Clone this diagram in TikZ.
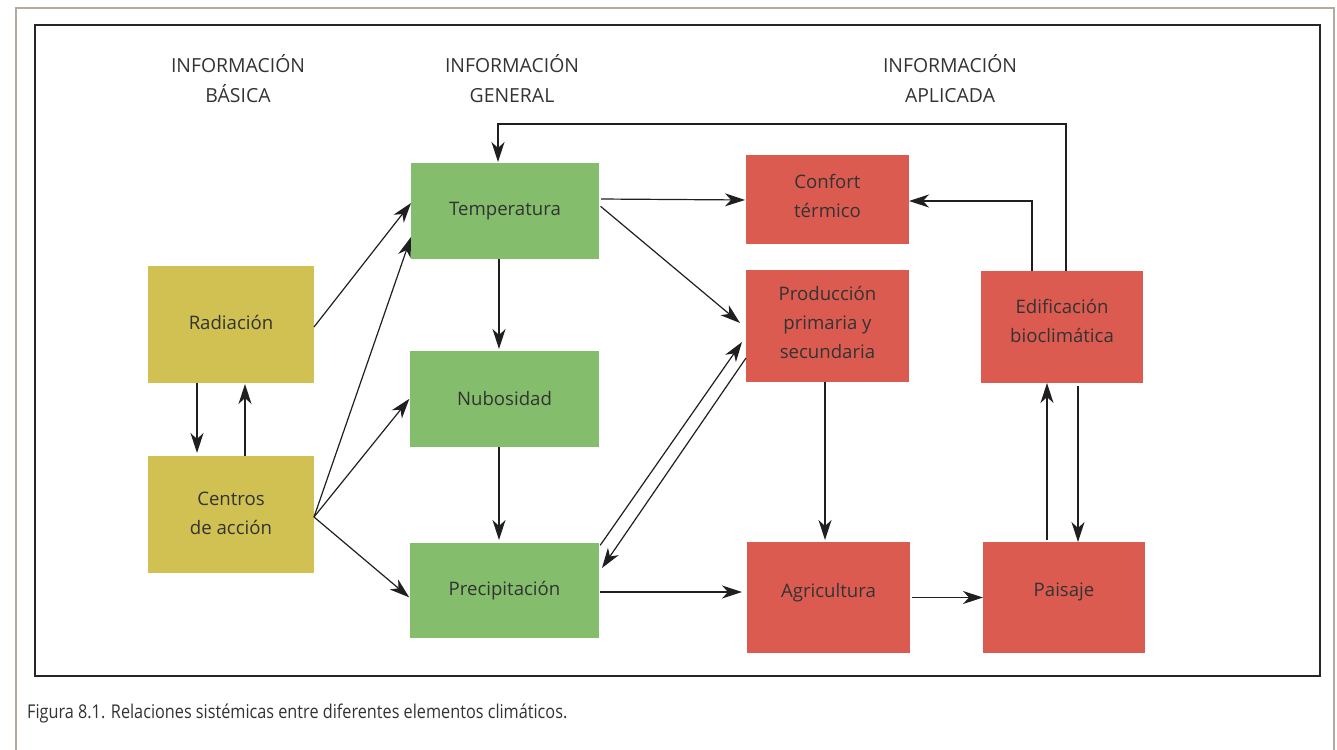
\documentclass[tikz,border=0pt]{standalone}
\usepackage{fontspec}
\setmainfont{Open Sans}
\newfontfamily\capfont[FakeStretch=0.855]{Open Sans}
\usetikzlibrary{arrows.meta}
\definecolor{frameout}{HTML}{B3AA9C}
\definecolor{txt}{HTML}{333333}
\definecolor{olive}{HTML}{D0C152}
\definecolor{leaf}{HTML}{84BD6C}
\definecolor{brick}{HTML}{DB5B50}
\tikzset{
  box/.style={rectangle, inner sep=0pt, outer sep=0pt},
  basic/.style={box, fill=olive},
  general/.style={box, fill=leaf},
  applied/.style={box, fill=brick},
  lbl/.style={align=center, inner sep=0pt, text=txt,
    font=\fontsize{18.6}{29}\selectfont},
  head/.style={align=center, text=txt, inner sep=0pt, font=\fontsize{19.4}{30}\selectfont},
  arr/.style={draw=black!88, line width=1.2pt,
    -{Stealth[length=20pt, width=13pt, inset=6pt]}},
}
\begin{document}
\begin{tikzpicture}[x=1pt, y=-1pt]
\useasboundingbox (0,0) rectangle (1337,749);
% frames
\draw[frameout, line width=2.5pt] (16,760) -- (16,8) -- (1334,8) -- (1334,760);
\draw[black!85, line width=1.6pt] (35,25) rectangle (1320,676);

% column headings
\node[head] (hb) at (238,79) {INFORMACIÓN\\BÁSICA};
\node[head] (hg) at (512,79) {INFORMACIÓN\\GENERAL};
\node[head] (ha) at (950,79) {INFORMACIÓN\\APLICADA};

% basic information
\node[basic, minimum width=166pt, minimum height=117pt] (rad) at (231,324.5) {};
\node[basic, minimum width=166pt, minimum height=117pt] (cen) at (231,514.5) {};
\node[lbl] (rad-t) at ([yshift=2pt]rad.center) {Radiación};
\node[lbl] (cen-t) at ([yshift=1pt]cen.center) {Centros\\de acción};

% general information
\node[general, minimum width=188pt, minimum height=96pt] (tem) at (505,211) {};
\node[general, minimum width=189pt, minimum height=96pt] (nub) at (504.5,399) {};
\node[general, minimum width=189pt, minimum height=95pt] (pre) at (504.5,590.5) {};
\node[lbl] (tem-t) at (tem.center) {Temperatura};
\node[lbl] (nub-t) at (nub.center) {Nubosidad};
\node[lbl] (pre-t) at (pre.center) {Precipitación};

% applied information
\node[applied, minimum width=163pt, minimum height=89pt] (con) at (827.5,199.5) {};
\node[applied, minimum width=163pt, minimum height=112pt] (pro) at (827.5,326) {};
\node[applied, minimum width=163pt, minimum height=111pt] (agr) at (828.5,597.5) {};
\node[applied, minimum width=162pt, minimum height=112pt] (edi) at (1062,327) {};
\node[applied, minimum width=162pt, minimum height=111pt] (pai) at (1064,597.5) {};
\node[lbl] (con-t) at ([yshift=3.5pt]con.center) {Confort\\térmico};
\node[lbl] (pro-t) at ([yshift=3.5pt]pro.center) {Producción\\primaria y\\secundaria};
\node[lbl] (agr-t) at ([yshift=5pt]agr.center) {Agricultura};
\node[lbl] (edi-t) at ([yshift=6pt]edi.center) {Edificación\\bioclimática};
\node[lbl] (pai-t) at ([yshift=6pt]pai.center) {Paisaje};

% caption
\node[anchor=west, inner sep=0pt, text=txt, font=\capfont\fontsize{19}{22}\selectfont] (cap) at (27,713)
  {Figura 8.1. Relaciones sistémicas entre diferentes elementos climáticos.};

% connectors between basic boxes
\draw[arr, shorten >=3pt] ([xshift=-34pt]rad.south) -- ([xshift=-34pt]cen.north);
\draw[arr, shorten >=1pt] ([xshift=14pt]cen.north) -- ([xshift=14pt]rad.south);

% basic -> general
\coordinate (c0) at ([yshift=-2.5pt]cen.east);
\draw[arr] ([yshift=-2.5pt]rad.east) -- ([yshift=8pt]tem.west);
\draw[arr] (c0) -- ([yshift=-26pt]tem.west);
\draw[arr, shorten >=1pt] (c0) -- ([yshift=1pt]nub.west);
\draw[arr, shorten >=1pt] (c0) -- ([yshift=-7.5pt]pre.west);

% general column
\draw[arr, shorten >=2pt] ([xshift=-6pt]tem.south) -- ([xshift=-5.5pt]nub.north);
\draw[arr, shorten >=3pt] ([xshift=-5.5pt]nub.south) -- ([xshift=-5.5pt]pre.north);

% general -> applied
\draw[arr, shorten <=2pt, shorten >=1pt] ([yshift=12pt]tem.east) -- ([yshift=-0.5pt]con.west);
\draw[arr, shorten <=2pt] ([yshift=6pt]tem.east) -- ([xshift=-6pt, yshift=3pt]pro.west);
\draw[arr, shorten <=2pt] ([yshift=43.5pt]pre.east) -- ([xshift=-4pt, yshift=-16pt]pro.west);
\draw[arr] ([yshift=-32pt]pro.west) -- ([xshift=3pt, yshift=22.5pt]pre.east);
\draw[arr, shorten <=1pt] ([yshift=-1.5pt]pre.east) -- ([xshift=-5pt, yshift=5.5pt]agr.west);

% applied column
\draw[arr, shorten >=2pt] ([xshift=-2.5pt]pro.south) -- ([xshift=-3.5pt]agr.north);
\draw[arr, shorten <=2pt] (agr.east) -- (pai.west);
\draw[arr, shorten <=2pt] ([xshift=-17pt]pai.north) -- ([xshift=-15pt]edi.south);
\draw[arr, shorten <=3pt] ([xshift=16pt]edi.south) -- ([xshift=14pt]pai.north);

% feedback from bioclimatic building
\draw[arr] ([xshift=-30pt]edi.north) |- ([yshift=-1.5pt]con.east);
\coordinate (ytop) at (0,124);
\coordinate (tin) at ([xshift=-7pt]tem.north);
\draw[arr, shorten >=1pt] ([xshift=4pt]edi.north) |- (tin |- ytop) -- (tin);
\end{tikzpicture}
\end{document}
